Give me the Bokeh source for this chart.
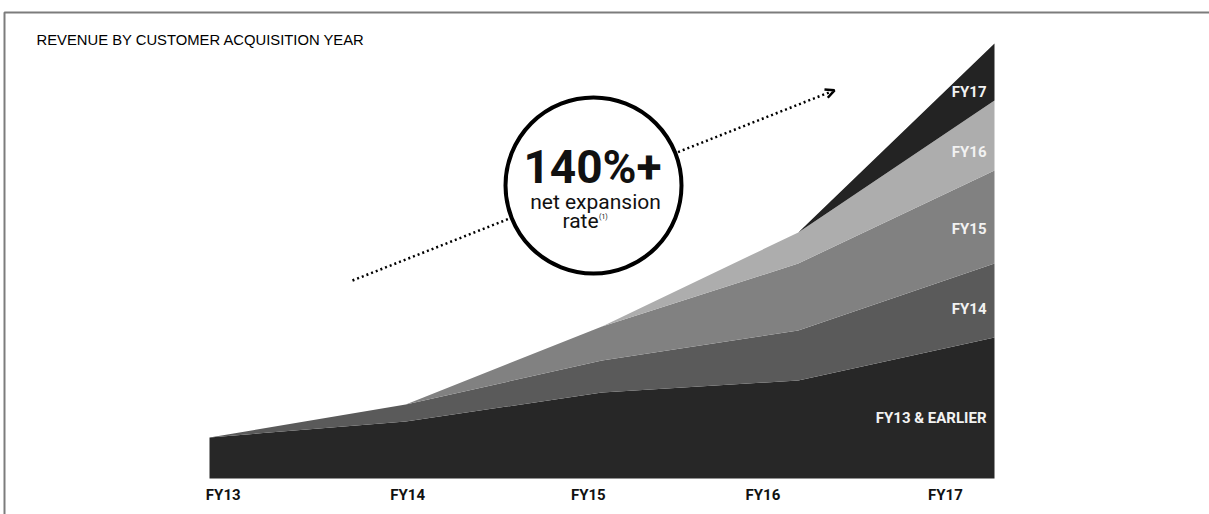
import numpy as np
from bokeh.plotting import figure
from bokeh.models import ColumnDataSource, Arrow, OpenHead
from bokeh.core.properties import value
from bokeh.embed import file_html
from bokeh.resources import INLINE

# ---------------- data ----------------
years = ["FY13", "FY14", "FY15", "FY16", "FY17"]
cohorts = ["FY13 & EARLIER", "FY14", "FY15", "FY16", "FY17"]
rev_fy13_earlier = [4.1, 5.7, 8.6, 9.8, 14.1]
rev_fy14 = [0.0, 1.7, 3.2, 5.0, 7.4]
rev_fy15 = [0.0, 0.0, 3.4, 6.7, 9.3]
rev_fy16 = [0.0, 0.0, 0.0, 3.1, 7.0]
rev_fy17 = [0.0, 0.0, 0.0, 0.0, 5.7]
year_label_x = [0.07, 1.01, 1.93, 2.82, 3.75]
title_text = "REVENUE BY CUSTOMER ACQUISITION YEAR"

# ---------------- layout helpers ----------------
W, H = 1209, 514
PX0, PXU = 209.0, 196.25   # pixel of FY13, pixels per year
PY0, PYU = 478.0, 10.0     # baseline pixel, pixels per unit


def X(px):
    return (px - PX0) / PXU


def Y(py):
    return (PY0 - py) / PYU


colors = ["#272727", "#5a5a5a", "#818181", "#adadad", "#232323"]
FONT = "Roboto"

p = figure(width=W, height=H, x_range=(X(0), X(W)), y_range=(Y(H), Y(0)),
           output_backend="svg", toolbar_location=None,
           x_axis_type=None, y_axis_type=None, min_border=0)
p.grid.visible = False
p.outline_line_color = None
p.background_fill_color = "white"
p.border_fill_color = "white"

xs = list(range(len(years)))
keys = ["c0", "c1", "c2", "c3", "c4"]
series = [rev_fy13_earlier, rev_fy14, rev_fy15, rev_fy16, rev_fy17]
src = ColumnDataSource(dict(x=xs, **{k: v for k, v in zip(keys, series)}))
p.varea_stack(stackers=keys, x="x", color=colors, source=src)

# frame lines
p.line([X(4), X(4), X(W)], [Y(H), Y(12), Y(12)], line_color="#7c7c7c", line_width=2)

# title
p.text(x=[X(36)], y=[Y(39)], text=[title_text], text_font=value("Liberation Sans"),
       text_font_size="14.8px", text_color="#000000", text_baseline="middle",
       text_align="left")

# x labels
p.text(x=year_label_x, y=[Y(494)] * 5, text=years, text_font=value(FONT),
       text_font_size="15px", text_font_style="bold", text_color="#111111",
       text_baseline="middle", text_align="center")

# cohort labels, centred in each layer near the right edge
lab_x = X(965)
cum = np.cumsum(np.array(series), axis=0)
tops = [np.interp(lab_x, xs, c) for c in cum]
bots = [0.0] + tops[:-1]
lab_y = [(a + b) / 2 for a, b in zip(tops, bots)]
lab_y[0] -= 0.7
lab_y[-1] += 0.35
p.text(x=[X(986)] * 5, y=lab_y, text=cohorts, text_font=value(FONT),
       text_font_size="15px", text_font_style="bold", text_color="#f2f2f2",
       text_baseline="middle", text_align="right")

# dotted trend arrow
p.segment(x0=[X(352)], y0=[Y(280)], x1=[X(831)], y1=[Y(91)],
          line_color="black", line_width=2.5, line_dash="2 3")
arrow = Arrow(end=OpenHead(size=9, line_width=2.5, line_color="black"),
              x_start=X(820), y_start=Y(95.3), x_end=X(834), y_end=Y(89.8),
              line_alpha=0)
p.add_layout(arrow)

# circle badge
p.scatter(x=[X(593)], y=[Y(185)], size=176, marker="circle",
          fill_color="white", line_color="black", line_width=4)
p.text(x=[X(592)], y=[Y(166)], text=["140%+"], text_font=value(FONT),
       text_font_size="46px", text_font_style="bold", text_color="#111111",
       text_baseline="middle", text_align="center")
p.text(x=[X(595)], y=[Y(201)], text=["net expansion"], text_font=value(FONT),
       text_font_size="21px", text_color="#111111",
       text_baseline="middle", text_align="center")
p.text(x=[X(580)], y=[Y(220)], text=["rate"], text_font=value(FONT),
       text_font_size="21px", text_color="#111111",
       text_baseline="middle", text_align="center")
p.text(x=[X(598.5)], y=[Y(216)], text=["(1)"], text_font=value(FONT),
       text_font_size="7px", text_color="#111111",
       text_baseline="middle", text_align="left")

open("out.html", "w").write(file_html(p, INLINE))
